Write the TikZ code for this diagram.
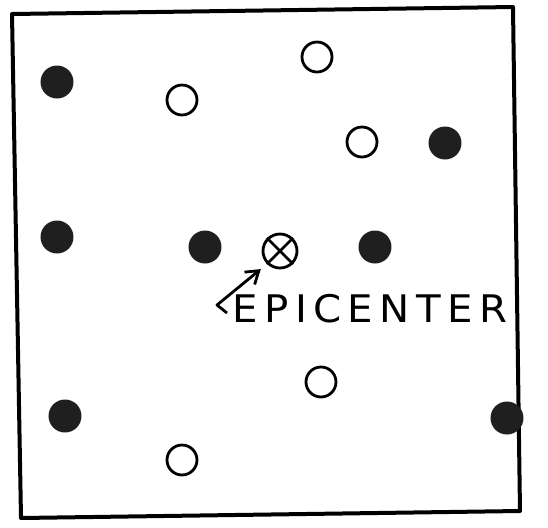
\documentclass[tikz,border=0pt]{standalone}
\usepackage{fontspec}
\newfontfamily\lettering[LetterSpace=16]{DejaVu Sans}
\usetikzlibrary{arrows.meta}

\begin{document}
\begin{tikzpicture}[x=0.5pt, y=-0.5pt,
    felt/.style={circle, fill=black!88, inner sep=0pt, minimum size=16.5pt},
    notfelt/.style={circle, draw=black, line width=1.4pt, inner sep=0pt, minimum size=15pt}]
    \useasboundingbox (0,0) rectangle (548,527);
    % hand-drawn frame
    \draw[line width=2pt, line join=round] (12,14) -- (513,7) -- (520,511) -- (21,518) -- cycle;
    % stations that felt the shock
    \node[felt] (f1) at (57,82) {};
    \node[felt] (f2) at (445,143) {};
    \node[felt] (f3) at (57,237) {};
    \node[felt] (f4) at (205,247) {};
    \node[felt] (f5) at (375,247) {};
    \node[felt] (f6) at (65,416) {};
    \node[felt] (f7) at (507,418) {};
    % stations that did not
    \node[notfelt] (n1) at (317,57) {};
    \node[notfelt] (n2) at (182,100) {};
    \node[notfelt] (n3) at (362,142) {};
    \node[notfelt] (n4) at (321,382) {};
    \node[notfelt] (n5) at (182,460) {};
    % epicenter
    \node[notfelt, minimum size=17pt] (epi) at (280,251) {};
    \draw[line width=1.4pt] (epi.north west) -- (epi.south east);
    \draw[line width=1.4pt] (epi.north east) -- (epi.south west);
    \node[font=\lettering\fontsize{19}{19}\selectfont, anchor=west, inner sep=0pt, xscale=1.06, transform shape] (lbl) at (232,309) {EPICENTER};
    \coordinate (hook) at (227,313);
    \draw[line width=1.4pt, line join=round, -{Straight Barb[length=6pt, width=8pt]}, shorten >=4pt]
      (hook) -- (217,305) -- (epi.south west);
\end{tikzpicture}
\end{document}
